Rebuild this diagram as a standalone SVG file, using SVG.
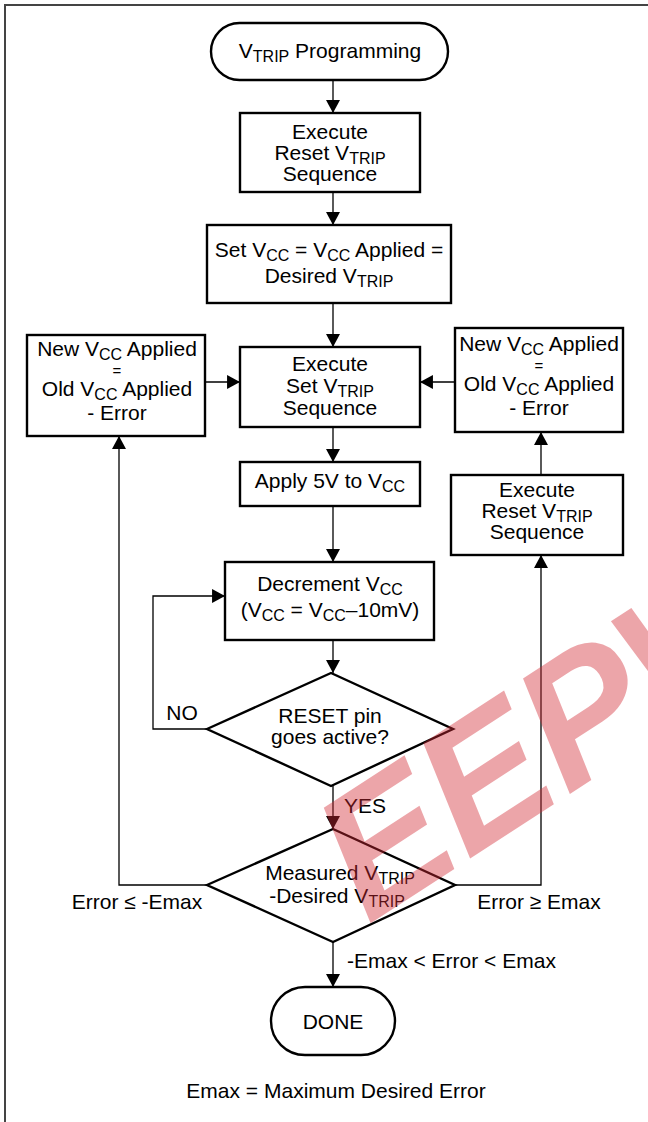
<svg xmlns="http://www.w3.org/2000/svg" width="648" height="1122" viewBox="0 0 648 1122">
<defs>
<marker id="ah" markerUnits="userSpaceOnUse" markerWidth="14" markerHeight="14" viewBox="0 0 12 13" refX="12" refY="6.5" orient="auto">
<path d="M0,0 L12,6.5 L0,13 Z" fill="#000"/>
</marker>
<style>
.bx{fill:#fff;stroke:#000;stroke-width:2.4}
.cn{fill:none;stroke:#000;stroke-width:1.3;marker-end:url(#ah)}
text{font-family:"Liberation Sans",Arial,Helvetica,sans-serif;font-size:21px;fill:#000}
.c{text-anchor:middle}
.s{font-size:16px}
.eq{font-size:15px}
</style>
</defs>
<rect x="0" y="0" width="648" height="1122" fill="#fff"/>
<path d="M5,1122 V5 H648" fill="none" stroke="#444" stroke-width="2"/>

<g id="connectors">
<path class="cn" d="M333,80 V113"/>
<path class="cn" d="M333,192 V225"/>
<path class="cn" d="M333,303 V347"/>
<path class="cn" d="M333,427 V462"/>
<path class="cn" d="M333,506 V562"/>
<path class="cn" d="M333,640 V673"/>
<path class="cn" d="M333,786 V829"/>
<path class="cn" d="M333,942 V987"/>
<path class="cn" d="M207,729 H153 V596 H225"/>
<path class="cn" d="M207,885 H119 V436"/>
<path class="cn" d="M455,885 H541 V555"/>
<path class="cn" d="M541,475 V432"/>
<path class="cn" d="M205,382 H240"/>
<path class="cn" d="M455,382 H420"/>
<text x="182" y="720" class="c">NO</text>
<text x="344" y="813">YES</text>
<text x="137" y="909" class="c">Error ≤ -Emax</text>
<text x="539" y="909" class="c">Error ≥ Emax</text>
<text x="347" y="968">-Emax &lt; Error &lt; Emax</text>
</g>

<g id="start">
<rect class="bx" x="211" y="23" width="237" height="57" rx="28.5"/>
<text x="330" y="58" class="c">V<tspan class="s" dy="4">TRIP</tspan><tspan dy="-4"> Programming</tspan></text>
</g>

<g id="reset1">
<rect class="bx" x="240" y="113" width="180" height="79"/>
<text x="330" y="139" class="c">Execute</text>
<text x="330" y="160" class="c">Reset V<tspan class="s" dy="4">TRIP</tspan></text>
<text x="330" y="181" class="c">Sequence</text>
</g>

<g id="setvcc">
<rect class="bx" x="207" y="225" width="244" height="78"/>
<text x="329" y="257" class="c">Set V<tspan class="s" dy="4">CC</tspan><tspan dy="-4"> = V</tspan><tspan class="s" dy="4">CC</tspan><tspan dy="-4"> Applied =</tspan></text>
<text x="329" y="283" class="c">Desired V<tspan class="s" dy="4">TRIP</tspan></text>
</g>

<g id="setseq">
<rect class="bx" x="240" y="347" width="180" height="80"/>
<text x="330" y="371" class="c">Execute</text>
<text x="330" y="393" class="c">Set V<tspan class="s" dy="4">TRIP</tspan></text>
<text x="330" y="415" class="c">Sequence</text>
</g>

<g id="leftadj">
<rect class="bx" x="27" y="335" width="178" height="101"/>
<text x="117" y="356" class="c">New V<tspan class="s" dy="4">CC</tspan><tspan dy="-4"> Applied</tspan></text>
<text x="117" y="376" class="c eq">=</text>
<text x="117" y="396" class="c">Old V<tspan class="s" dy="4">CC</tspan><tspan dy="-4"> Applied</tspan></text>
<text x="117" y="420" class="c">- Error</text>
</g>

<g id="rightadj">
<rect class="bx" x="455" y="328" width="168" height="104"/>
<text x="539" y="351" class="c">New V<tspan class="s" dy="4">CC</tspan><tspan dy="-4"> Applied</tspan></text>
<text x="539" y="371" class="c eq">=</text>
<text x="539" y="391" class="c">Old V<tspan class="s" dy="4">CC</tspan><tspan dy="-4"> Applied</tspan></text>
<text x="539" y="415" class="c">- Error</text>
</g>

<g id="reset2">
<rect class="bx" x="451" y="475" width="172" height="80"/>
<text x="537" y="497" class="c">Execute</text>
<text x="537" y="518" class="c">Reset V<tspan class="s" dy="4">TRIP</tspan></text>
<text x="537" y="539" class="c">Sequence</text>
</g>

<g id="apply5v">
<rect class="bx" x="240" y="462" width="180" height="44"/>
<text x="330" y="488" class="c">Apply 5V to V<tspan class="s" dy="4">CC</tspan></text>
</g>

<g id="decrement">
<rect class="bx" x="225" y="562" width="209" height="78"/>
<text x="330" y="591" class="c">Decrement V<tspan class="s" dy="4">CC</tspan></text>
<text x="330" y="617" class="c">(V<tspan class="s" dy="4">CC</tspan><tspan dy="-4"> = V</tspan><tspan class="s" dy="4">CC</tspan><tspan dy="-4">–10mV)</tspan></text>
</g>

<g id="resetpin">
<path class="bx" d="M207,729 L331,673 L453,729 L331,786 Z"/>
<text x="330" y="723" class="c">RESET pin</text>
<text x="330" y="744" class="c">goes active?</text>
</g>

<g id="measured">
<path class="bx" d="M207,885 L333,829 L455,885 L333,942 Z"/>
<text x="340" y="880" class="c">Measured V<tspan class="s" dy="4">TRIP</tspan></text>
<text x="337" y="903" class="c">-Desired V<tspan class="s" dy="4">TRIP</tspan></text>
</g>

<g id="done">
<rect class="bx" x="271" y="987" width="124" height="68" rx="34"/>
<text x="333" y="1029" class="c">DONE</text>
</g>

<text x="336" y="1098" class="c">Emax = Maximum Desired Error</text>

<g id="watermark" opacity="0.42">
<text transform="translate(368,925) rotate(-33)" style="font-size:178px;font-weight:bold;font-style:italic;fill:#d42a35">EEPW</text>
</g>
</svg>
